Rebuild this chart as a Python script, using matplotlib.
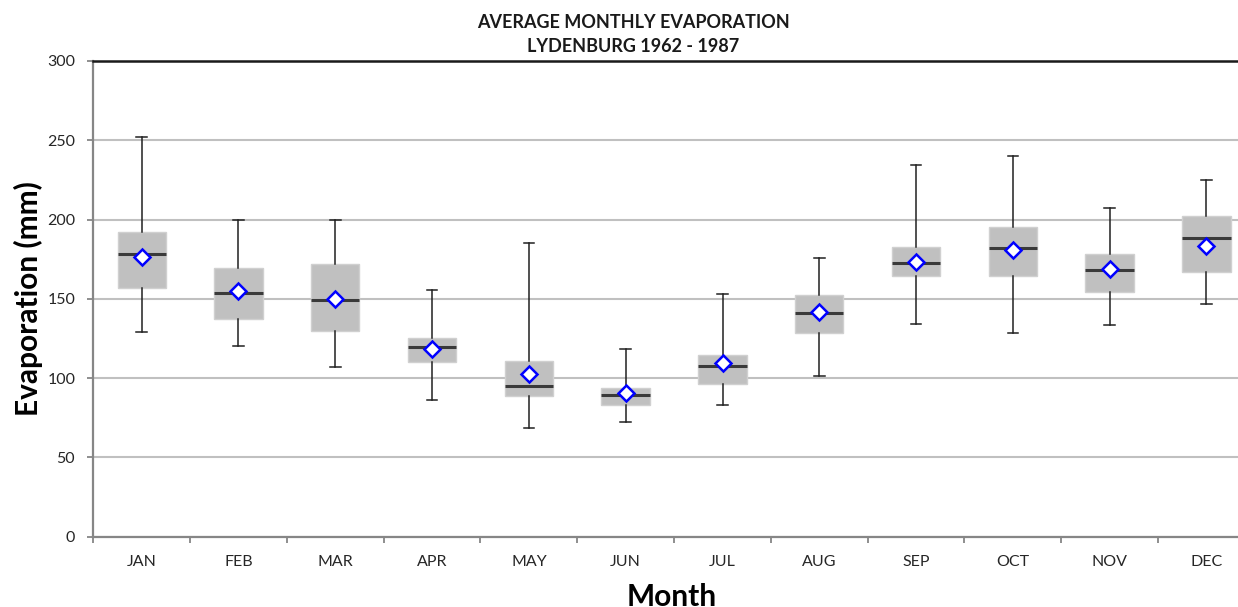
import matplotlib
matplotlib.use("Agg")
import matplotlib.pyplot as plt
import numpy as np

months = ["JAN", "FEB", "MAR", "APR", "MAY", "JUN", "JUL", "AUG", "SEP", "OCT", "NOV", "DEC"]
whisker_high = [252.3, 199.7, 200.0, 155.6, 185.2, 118.2, 152.9, 175.6, 234.4, 240.1, 207.3, 224.8]
q3 = [192.3, 169.4, 172.2, 125.3, 111.0, 93.6, 114.8, 152.2, 182.5, 195.1, 178.5, 202.0]
median = [178.1, 153.9, 149.1, 119.8, 95.0, 89.4, 107.5, 141.3, 172.4, 182.1, 168.4, 188.4]
mean = [176.6, 155.1, 150.1, 118.6, 102.6, 90.6, 109.3, 141.9, 173.0, 181.0, 169.0, 183.3]
q1 = [156.6, 137.3, 129.7, 110.4, 88.7, 83.3, 96.5, 128.5, 164.4, 164.4, 154.5, 167.1]
whisker_low = [129.3, 120.3, 107.0, 86.4, 68.4, 72.5, 82.9, 101.5, 134.1, 128.5, 133.5, 146.6]

FONT = ["Lato", "DejaVu Sans"]
plt.rcParams["font.family"] = FONT

fig = plt.figure(figsize=(12.38, 6.07), dpi=100)
L = 93.3 / 1238
W = 12 * 96.8 / 1238
B = (607 - 536.7) / 607
H = (536.7 - 61) / 607
ax = fig.add_axes([L, B, W, H])

stats = []
for i in range(len(months)):
    stats.append(dict(label=months[i], whislo=whisker_low[i], q1=q1[i], med=median[i],
                      q3=q3[i], whishi=whisker_high[i], mean=mean[i], fliers=[]))

positions = np.arange(len(months))
ax.bxp(stats, positions=positions, widths=0.5, capwidths=0.11, patch_artist=True,
       showmeans=True, showfliers=False,
       boxprops=dict(facecolor="#C0C0C0", edgecolor="#D0D0D0", linewidth=1),
       medianprops=dict(color="#3A3A3A", linewidth=2.2),
       whiskerprops=dict(color="#202020", linewidth=1.1),
       capprops=dict(color="#202020", linewidth=1.1),
       meanprops=dict(marker="D", markerfacecolor="white", markeredgecolor="#0000FF",
                      markeredgewidth=1.8, markersize=8.5),
       zorder=3)

ax.set_xlim(-0.5, len(months) - 0.5)
ax.set_ylim(0, 300)
ax.set_yticks(np.arange(0, 301, 50))
ax.set_xticks(positions)
ax.set_xticklabels(months)
ax.set_xticks(np.arange(-0.5, len(months), 1.0), minor=True)
ax.tick_params(axis="x", which="major", length=0, pad=13.5, labelsize=11.5, labelcolor="#262626")
ax.tick_params(axis="x", which="minor", length=4, width=1.3, color="#868686")
ax.tick_params(axis="y", length=4, width=1.3, color="#868686", pad=9, labelsize=11.5, labelcolor="#262626")

ax.yaxis.grid(True, color="#C0C0C0", linewidth=1.5, zorder=0)
ax.set_axisbelow(True)
for s in ["left", "bottom"]:
    ax.spines[s].set_color("#868686")
    ax.spines[s].set_linewidth(1.6)
ax.spines["top"].set_color("#1A1A1A")
ax.spines["top"].set_linewidth(1.8)
ax.spines["right"].set_visible(False)

fig.text(633 / 1238, 1 - 22 / 607, "AVERAGE MONTHLY EVAPORATION", ha="center", va="center",
         fontsize=13, fontweight="bold", color="#1A1A1A")
fig.text(633 / 1238, 1 - 46 / 607, "LYDENBURG 1962 - 1987", ha="center", va="center",
         fontsize=13, fontweight="bold", color="#1A1A1A")
fig.text(28 / 1238, 1 - 299 / 607, "Evaporation (mm)", rotation=90, ha="center", va="center",
         fontsize=21.5, fontweight="bold", color="#000000")
fig.text(672 / 1238, 1 - 597 / 607, "Month", ha="center", va="center",
         fontsize=21.5, fontweight="bold", color="#000000")

fig.savefig("out.png", dpi=100)
